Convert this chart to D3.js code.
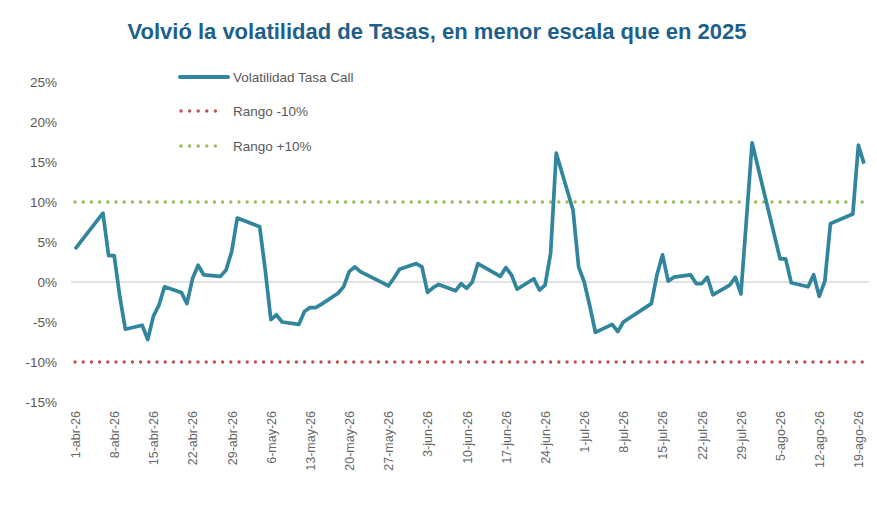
<!DOCTYPE html>
<html>
<head>
<meta charset="utf-8">
<script src="https://cdn.jsdelivr.net/npm/d3@7"></script>
<style>
  body { margin: 0; background: #ffffff; }
  svg { display: block; }
</style>
</head>
<body>
<div id="chart"></div>
<script>
// Chart data
var dates = [
  "2026-04-01", "2026-04-06", "2026-04-07", "2026-04-08", "2026-04-09", "2026-04-10",
  "2026-04-13", "2026-04-14", "2026-04-15", "2026-04-16", "2026-04-17",
  "2026-04-20", "2026-04-21", "2026-04-22", "2026-04-23", "2026-04-24",
  "2026-04-27", "2026-04-28", "2026-04-29", "2026-04-30",
  "2026-05-04", "2026-05-05", "2026-05-06", "2026-05-07", "2026-05-08",
  "2026-05-11", "2026-05-12", "2026-05-13", "2026-05-14", "2026-05-15",
  "2026-05-18", "2026-05-19", "2026-05-20", "2026-05-21", "2026-05-22",
  "2026-05-26", "2026-05-27", "2026-05-28", "2026-05-29",
  "2026-06-01", "2026-06-02", "2026-06-03", "2026-06-04", "2026-06-05",
  "2026-06-08", "2026-06-09", "2026-06-10", "2026-06-11", "2026-06-12",
  "2026-06-16", "2026-06-17", "2026-06-18", "2026-06-19",
  "2026-06-22", "2026-06-23", "2026-06-24", "2026-06-25", "2026-06-26",
  "2026-06-29", "2026-06-30", "2026-07-01", "2026-07-02", "2026-07-03",
  "2026-07-06", "2026-07-07", "2026-07-08",
  "2026-07-13", "2026-07-14", "2026-07-15", "2026-07-16", "2026-07-17",
  "2026-07-20", "2026-07-21", "2026-07-22", "2026-07-23", "2026-07-24",
  "2026-07-27", "2026-07-28", "2026-07-29", "2026-07-30", "2026-07-31",
  "2026-08-03", "2026-08-04", "2026-08-05", "2026-08-06", "2026-08-07",
  "2026-08-10", "2026-08-11", "2026-08-12", "2026-08-13", "2026-08-14",
  "2026-08-18", "2026-08-19", "2026-08-20"
];
var volatility = [
  4.1, 8.6, 3.3, 3.3, -1.8, -5.9,
  -5.4, -7.2, -4.3, -2.9, -0.6,
  -1.3, -2.7, 0.4, 2.1, 0.9,
  0.7, 1.5, 3.8, 8.0,
  6.9, 1.5, -4.7, -4.1, -5.0,
  -5.3, -3.7, -3.2, -3.2, -2.8,
  -1.4, -0.6, 1.3, 1.9, 1.3,
  -0.1, -0.5, 0.5, 1.6,
  2.3, 1.9, -1.3, -0.7, -0.3,
  -1.1, -0.2, -0.8, 0.0, 2.3,
  0.7, 1.8, 0.9, -0.9,
  0.4, -1.0, -0.4, 3.6, 16.1,
  9.0, 1.9, 0.0, -3.0, -6.3,
  -5.3, -6.2, -5.0,
  -2.7, 0.9, 3.4, 0.1, 0.6,
  0.9, -0.2, -0.2, 0.6, -1.6,
  -0.4, 0.6, -1.5, 7.9, 17.4,
  8.7, 5.8, 2.9, 2.9, -0.1,
  -0.6, 0.9, -1.8, 0.1, 7.3,
  8.5, 17.1, 14.8
];
var lowerBand = -10;
var upperBand = 10;
var yTicks = [-15, -10, -5, 0, 5, 10, 15, 20, 25];
var tickLabels = [
  "1-abr-26", "8-abr-26", "15-abr-26", "22-abr-26", "29-abr-26",
  "6-may-26", "13-may-26", "20-may-26", "27-may-26",
  "3-jun-26", "10-jun-26", "17-jun-26", "24-jun-26",
  "1-jul-26", "8-jul-26", "15-jul-26", "22-jul-26", "29-jul-26",
  "5-ago-26", "12-ago-26", "19-ago-26"
];
var seriesNames = ["Volatilidad Tasa Call", "Rango -10%", "Rango +10%"];
var titleText = "Volvió la volatilidad de Tasas, en menor escala que en 2025";

// Colours
var lineColor = "#31859c";
var redColor = "#c0504d";
var greenColor = "#9bbb59";
var textColor = "#595959";

var width = 877;
var height = 510;

var parseDate = d3.timeParse("%Y-%m-%d");
var monthIdx = { "ene": 0, "feb": 1, "mar": 2, "abr": 3, "may": 4, "jun": 5, "jul": 6, "ago": 7, "sep": 8, "oct": 9, "nov": 10, "dic": 11 };
function parseTick(label) {
  var parts = label.split("-");
  return new Date(2000 + (+parts[2]), monthIdx[parts[1]], +parts[0]);
}

var data = dates.map(function(d, i) {
  return { date: parseDate(d), value: volatility[i] };
});

var svg = d3.select("#chart").append("svg")
  .attr("width", width)
  .attr("height", height);

// Title
svg.append("text")
  .attr("x", 437)
  .attr("y", 39)
  .attr("text-anchor", "middle")
  .attr("font-family", "Liberation Sans, Arial, sans-serif")
  .attr("font-size", "22px")
  .attr("font-weight", "bold")
  .attr("fill", "#1f5f8b")
  .text(titleText);

// Scales
var xScale = d3.scaleTime()
  .domain([parseDate(dates[0]), parseDate(dates[dates.length - 1])])
  .range([75, 864]);

var yScale = d3.scaleLinear()
  .domain([-15, 25])
  .range([402, 82]);

// Zero gridline
svg.append("line")
  .attr("x1", 71)
  .attr("x2", 869)
  .attr("y1", yScale(0))
  .attr("y2", yScale(0))
  .attr("stroke", "#d9d9d9")
  .attr("stroke-width", 1.5);

// Y axis labels
var yAxis = d3.axisLeft(yScale)
  .tickValues(yTicks)
  .tickSize(0)
  .tickPadding(0)
  .tickFormat(function(d) { return d + "%"; });
var yAxisGroup = svg.append("g")
  .attr("transform", "translate(57,0)")
  .call(yAxis);
yAxisGroup.select(".domain").remove();
yAxisGroup.selectAll("text")
  .attr("font-family", "Liberation Sans, Arial, sans-serif")
  .attr("font-size", "13.5px")
  .attr("fill", textColor);

// X axis labels (rotated)
var xAxis = d3.axisBottom(xScale)
  .tickValues(tickLabels.map(parseTick))
  .tickSize(0)
  .tickPadding(0)
  .tickFormat(function(d, i) { return tickLabels[i]; });
var xAxisGroup = svg.append("g")
  .attr("transform", "translate(0,411)")
  .call(xAxis);
xAxisGroup.select(".domain").remove();
xAxisGroup.selectAll("text")
  .attr("font-family", "Liberation Sans, Arial, sans-serif")
  .attr("font-size", "12.5px")
  .attr("fill", "#666666")
  .attr("text-anchor", "end")
  .attr("x", 0)
  .attr("y", 0)
  .attr("dx", 0)
  .attr("dy", "0.35em")
  .attr("transform", "rotate(-90)");

// Band lines (dotted)
var first = data[0].date;
var last = data[data.length - 1].date;
svg.append("line")
  .attr("x1", xScale(first))
  .attr("x2", xScale(last))
  .attr("y1", yScale(lowerBand))
  .attr("y2", yScale(lowerBand))
  .attr("stroke", redColor)
  .attr("stroke-width", 3.4)
  .attr("stroke-linecap", "round")
  .attr("stroke-dasharray", "0 8.2");

svg.append("line")
  .attr("x1", xScale(first))
  .attr("x2", xScale(last))
  .attr("y1", yScale(upperBand))
  .attr("y2", yScale(upperBand))
  .attr("stroke", greenColor)
  .attr("stroke-width", 3.4)
  .attr("stroke-linecap", "round")
  .attr("stroke-dasharray", "0 8.2");

// Main series line
var line = d3.line()
  .x(function(d) { return xScale(d.date); })
  .y(function(d) { return yScale(d.value); });

svg.append("path")
  .datum(data)
  .attr("fill", "none")
  .attr("stroke", lineColor)
  .attr("stroke-width", 3.7)
  .attr("stroke-linejoin", "round")
  .attr("d", line);

// Legend
var legend = svg.append("g").attr("transform", "translate(180,0)");
var legendY = [77, 111, 146];
var legendStyles = [
  { color: lineColor, dash: null, width: 4 },
  { color: redColor, dash: "0 8.6", width: 3.4 },
  { color: greenColor, dash: "0 8.6", width: 3.4 }
];
seriesNames.forEach(function(name, i) {
  var sample = legend.append("line")
    .attr("x1", legendStyles[i].dash ? 1 : 0)
    .attr("x2", legendStyles[i].dash ? 44 : 48)
    .attr("y1", legendY[i])
    .attr("y2", legendY[i])
    .attr("stroke", legendStyles[i].color)
    .attr("stroke-width", legendStyles[i].width)
    .attr("stroke-linecap", "round");
  if (legendStyles[i].dash) sample.attr("stroke-dasharray", legendStyles[i].dash);

  legend.append("text")
    .attr("x", 53)
    .attr("y", legendY[i])
    .attr("dy", "0.35em")
    .attr("font-family", "Liberation Sans, Arial, sans-serif")
    .attr("font-size", "13.5px")
    .attr("fill", textColor)
    .text(name);
});
</script>
</body>
</html>
